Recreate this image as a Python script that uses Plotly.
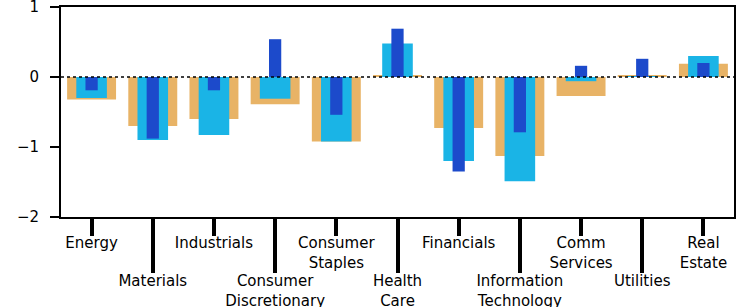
import plotly.graph_objects as go

sectors = ["Energy", "Materials", "Industrials", "Consumer<br>Discretionary", "Consumer<br>Staples",
           "Health<br>Care", "Financials", "Information<br>Technology", "Comm<br>Services",
           "Utilities", "Real<br>Estate"]
series_a = [-0.32, -0.70, -0.60, -0.39, -0.92, 0.02, -0.73, -1.13, -0.27, 0.03, 0.19]   # wide, orange
series_b = [-0.30, -0.90, -0.83, -0.31, -0.92, 0.48, -1.20, -1.49, -0.06, 0.01, 0.30]   # medium, cyan
series_c = [-0.19, -0.88, -0.19, 0.54, -0.54, 0.69, -1.35, -0.79, 0.16, 0.26, 0.20]     # narrow, blue
y_ticks = [1, 0, -1, -2]
y_tick_text = ["1", "0", "\u22121", "\u22122"]

idx = list(range(len(sectors)))
font = dict(family="DejaVu Sans", size=15, color="black")

fig = go.Figure()
fig.add_trace(go.Bar(x=idx, y=series_a, width=0.8, marker=dict(color="#E8B366", line=dict(width=0))))
fig.add_trace(go.Bar(x=idx, y=series_b, width=0.5, marker=dict(color="#1AB4E6", line=dict(width=0))))
fig.add_trace(go.Bar(x=idx, y=series_c, width=0.2, marker=dict(color="#1C4ACB", line=dict(width=0))))
# invisible trace to activate the second x axis
fig.add_trace(go.Scatter(x=[0], y=[0], xaxis="x2", mode="markers", marker=dict(opacity=0),
                         hoverinfo="skip", showlegend=False))

even = idx[0::2]
odd = idx[1::2]
fig.update_layout(
    width=743, height=307,
    margin=dict(l=61, r=9, t=7, b=90),
    paper_bgcolor="white", plot_bgcolor="white",
    barmode="overlay", showlegend=False, font=font,
    xaxis=dict(range=[-0.5, 10.5], tickmode="array", tickvals=even, automargin=False,
               ticktext=[sectors[i] for i in even], ticks="outside", ticklen=17, tickwidth=3.5,
               tickcolor="black", showline=True, linewidth=2, linecolor="black", mirror=True,
               showgrid=False, zeroline=False, tickfont=font, ticklabelstandoff=-6),
    xaxis2=dict(range=[-0.5, 10.5], overlaying="x", side="bottom", tickmode="array", tickvals=odd,
                automargin=False,
                ticktext=[sectors[i] for i in odd], ticks="outside", ticklen=55, tickwidth=3.5,
                tickcolor="black", showline=False, showgrid=False, zeroline=False, tickfont=font,
                ticklabelstandoff=-5),
    yaxis=dict(range=[-2, 1], tickmode="array", tickvals=y_ticks, ticktext=y_tick_text,
               automargin=False, ticklabeloverflow="allow",
               ticks="outside", ticklen=9, tickwidth=2, tickcolor="black",
               showline=True, linewidth=2, linecolor="black", mirror=True,
               showgrid=False, zeroline=False, tickfont=font, ticklabelstandoff=8),
    shapes=[dict(type="line", xref="paper", x0=0, x1=1, yref="y", y0=0, y1=0,
                 line=dict(color="black", width=1.5, dash="dot"), layer="above")],
)
fig.write_html("out.html", config={"displayModeBar": False},
               post_script="document.body.style.margin='0';document.body.style.padding='0';")
